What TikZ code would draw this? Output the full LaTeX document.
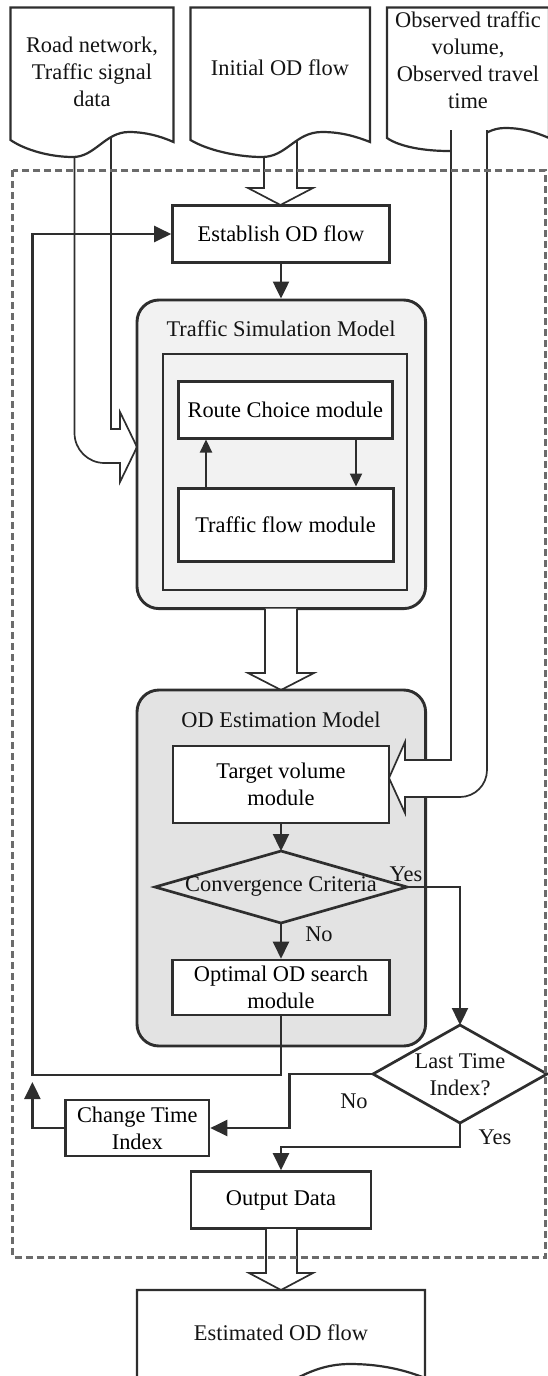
\documentclass[tikz,border=0pt]{standalone}
\usepackage{fontspec}
\setmainfont{Liberation Serif}
\usetikzlibrary{arrows.meta,calc}
\definecolor{ink}{HTML}{2E2E2E}
\definecolor{tsmfill}{HTML}{F2F2F2}
\definecolor{odefill}{HTML}{E3E3E3}
\begin{document}
\begin{tikzpicture}[x=1pt,y=-1pt,
  font=\fontsize{22.4pt}{27pt}\selectfont,
  box/.style={draw=ink,line width=2.6pt,fill=white,inner sep=0pt,align=center},
  modbox/.style={box,line width=3pt},
  rbox/.style={draw=ink,line width=2.9pt,rounded corners=22pt,inner sep=0pt},
  lbl/.style={inner sep=0pt,align=center,text=black!92},
  conn/.style={draw=ink,line width=2.3pt,-{Triangle[length=17pt,width=16pt]}},
  hollow/.style={draw=ink,line width=1.7pt,fill=white,line join=miter},
  docshape/.style={draw=ink,line width=2.2pt,fill=white},
  dshape/.style={draw=ink,line width=2.7pt,line join=miter},
  frame/.style={draw=black!58,line width=3pt,dash pattern=on 7pt off 4pt}]
\useasboundingbox (0,0) rectangle (547,1376);

% ---- hollow arrows from the top documents
\draw[hollow] (111,130) -- (111,429) -- (120,429) -- (120,412) -- (137,447)
  -- (120,482) -- (120,463) -- (104.5,463)
  .. controls (87.9,463) and (74.5,449.6) .. (74.5,433) -- (74.5,130);
\draw[hollow] (264,130) -- (264,188) -- (248,188) -- (280.5,205) -- (313,188)
  -- (297,188) -- (297,130);

% ---- top documents
\draw[docshape] (10.5,7.5) -- (173.5,7.5) -- (173.5,142)
  .. controls (160,136) and (145,132) .. (129,132)
  .. controls (105,132) and (95,157) .. (73,157)
  .. controls (50,157) and (25,150) .. (10.5,140) -- cycle;
\node[lbl] (doca) at (92,72) {Road network,\\Traffic signal\\data};
\draw[docshape] (190.5,7.5) -- (370,7.5) -- (370,142)
  .. controls (355,136) and (340,132) .. (322,132)
  .. controls (295,132) and (287,157) .. (262,157)
  .. controls (237,157) and (207,150) .. (190.5,140) -- cycle;
\node[lbl] (docb) at (280,68) {Initial OD flow};
\draw[docshape] (387,7.5) -- (549,7.5) -- (549,138)
  .. controls (535,132) and (522,128) .. (505,128)
  .. controls (480,128) and (472,151) .. (449,151)
  .. controls (425,151) and (400,147) .. (387,138) -- cycle;
\node[lbl] (docc) at (468,60) {Observed traffic\\volume,\\Observed travel\\time};

% ---- establish + traffic simulation model
\node[box,minimum width=217pt,minimum height=57pt] (est) at (281,234) {Establish OD flow};
\node[rbox,fill=tsmfill,minimum width=288.6pt,minimum height=308.6pt] (tsm) at (281.3,454.3) {};
\node[lbl] (tsmt) at (281,329) {Traffic Simulation Model};
\node[draw=ink,line width=1.5pt,inner sep=0pt,minimum width=244pt,minimum height=236pt] (tsmin) at (285,472) {};
\node[modbox,minimum width=214.5pt,minimum height=57pt] (route) at (285.25,409.5) {Route Choice module};
\node[modbox,minimum width=215pt,minimum height=73pt] (tflow) at (285.5,524.5) {Traffic flow module};
\coordinate (upx) at (206,0);
\coordinate (dnx) at (356,0);
\draw[conn,-{Triangle[length=13pt,width=12pt]}] (tflow.north -| upx) -- (route.south -| upx);
\draw[conn,-{Triangle[length=13pt,width=12pt]}] (route.south -| dnx) -- (tflow.north -| dnx);
\draw[conn] (est.south) -- (est.south |- tsm.north);

% ---- hollow arrow TSM -> ODE
\draw[hollow] (265,608.6) -- (265,673) -- (248,673) -- (281,690) -- (314,673)
  -- (297,673) -- (297,608.6);

% ---- OD estimation model
\node[rbox,fill=odefill,minimum width=288.6pt,minimum height=356pt] (ode) at (281.3,868) {};
\node[lbl] (odet) at (281,720) {OD Estimation Model};
\draw[hollow] (451,130) -- (451,760) -- (405,760) -- (405,742) -- (389,778)
  -- (405,813) -- (405,797) -- (460,797)
  .. controls (474.9,797) and (487,784.9) .. (487,770) -- (487,130);
\node[box,minimum width=216pt,minimum height=77pt] (tgt) at (281,784.5) {Target volume\\module};
\coordinate (convT) at (281,851);
\coordinate (convB) at (281,923);
\coordinate (convL) at (155,887);
\coordinate (convR) at (407,887);
\draw[dshape] (convT) -- (convR) -- (convB) -- (convL) -- cycle;
\node[lbl] (conv) at (281,886) {Convergence Criteria};
\node[box,minimum width=217pt,minimum height=55pt] (opt) at (281,987.5) {Optimal OD search\\module};
\draw[conn] (tgt.south) -- (convT);
\draw[conn] (convB) -- (opt.north);
\node[lbl] (yesa) at (406,874) {Yes};
\node[lbl] (noa) at (319,934) {No};

% ---- last time index
\coordinate (ltT) at (460,1025);
\coordinate (ltB) at (460,1123);
\coordinate (ltL) at (373,1074);
\coordinate (ltR) at (547,1074);
\draw[dshape,fill=white] (ltT) -- (ltR) -- (ltB) -- (ltL) -- cycle;
\node[lbl] (lti) at (460,1075) {Last Time\\Index?};
\draw[conn] (convR) -| (ltT);

\node[box,minimum width=143.4pt,minimum height=56pt] (cti) at (137.3,1128) {Change Time\\Index};
\node[box,minimum width=180pt,minimum height=57pt] (out) at (281,1200) {Output Data};

\coordinate (jn) at (32.4,1075);
\draw[conn] (opt.south) |- (jn) |- (est.west);
\draw[conn] (cti.west) -| ($(jn)+(0,7)$);
\coordinate (nox) at (289.6,1074);
\draw[conn] (ltL) -- (nox) |- (cti.east);
\draw[conn] (ltB) -- ++(0,24) -| (out.north);
\node[lbl] (nob) at (354,1101) {No};
\node[lbl] (yesb) at (495,1137) {Yes};

% ---- output -> estimated OD flow
\draw[hollow] (266,1229) -- (266,1273) -- (249,1273) -- (281,1290) -- (313,1273)
  -- (297,1273) -- (297,1229);
\draw[docshape] (137,1290) -- (425,1290) -- (425,1378)
  .. controls (400,1368) and (375,1364) .. (350,1364)
  .. controls (300,1364) and (280,1398) .. (240,1398)
  .. controls (200,1398) and (160,1395) .. (137,1390) -- cycle;
\node[lbl] (estd) at (281,1333) {Estimated OD flow};

% ---- dashed frame
\draw[frame] (12.7,170) rectangle (545.5,1257);
\end{tikzpicture}
\end{document}
